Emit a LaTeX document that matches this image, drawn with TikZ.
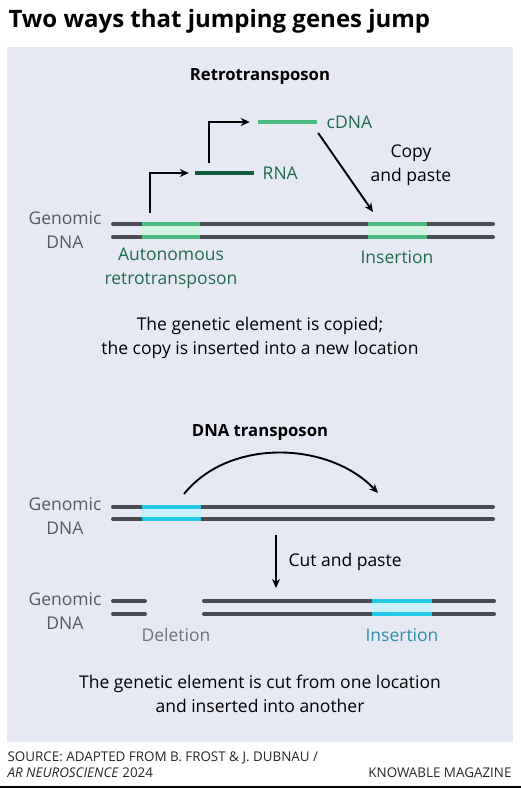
\documentclass[tikz,border=0pt]{standalone}
\usepackage{fontspec}
\setmainfont{Open Sans}
\usetikzlibrary{arrows.meta,calc,positioning}
\definecolor{panel}{HTML}{E6E9F4}
\definecolor{strandgray}{HTML}{4A4B52}
\definecolor{retrogreen}{HTML}{4CBB7F}
\definecolor{retrolight}{HTML}{D5F2E0}
\definecolor{rnagreen}{HTML}{0E5C3C}
\definecolor{labelgreen}{HTML}{1D6B4B}
\definecolor{dnacyan}{HTML}{22C8E6}
\definecolor{cyanlight}{HTML}{C8F0FA}
\definecolor{labelteal}{HTML}{2A8FA6}
\definecolor{labelgray}{HTML}{58595F}
\tikzset{strand/.style={draw=strandgray,line width=4pt,line cap=round},
     greenseg/.style={draw=retrogreen,line width=4pt},
     cyanseg/.style={draw=dnacyan,line width=4pt},
     bar/.style={
       rectangle,
       inner sep=0,
       minimum width=59pt,
       minimum height=4pt
     },
     heading/.style={font=\bfseries\fontsize{16.7}{20}\selectfont},
     body/.style={align=center,font=\fontsize{17.5}{24}\selectfont},
     genlabel/.style={body,text=labelgray},
     arr/.style={->,line width=1.9pt,black}
}

\begin{document}
\begin{tikzpicture}[x=1pt,y=-1pt,
    >={Stealth[length=9pt,width=8pt]}]
  \useasboundingbox (0,0) rectangle (521,788);
  \fill[panel] (7,47) rectangle (513,742);
  \node[anchor=west,font=\bfseries\fontsize{24}{28}\selectfont] (title) at (5,21) {Two ways that jumping genes jump};

  % retrotransposon
  \node[heading] (retro) at (260,77) {Retrotransposon};
  \node[genlabel] (gen1) at (65,230) {Genomic\\DNA};
  \fill[retrolight] (142,224) rectangle (200,237);
  \fill[retrolight] (368,224) rectangle (427,237);
  \draw[strand] (113,224) -- (493,224);
  \draw[strand] (113,237) -- (493,237);
  \draw[greenseg] (142,224) -- (200,224) (142,237) -- (200,237);
  \draw[greenseg] (368,224) -- (427,224) (368,237) -- (427,237);

  \node[bar,fill=rnagreen] (rna) at (224.5,173) {};
  \node[body,text=labelgreen,right=5pt of rna] (rnalabel) {RNA};
  \node[bar,fill=retrogreen] (cdna) at (287.5,122) {};
  \node[body,text=labelgreen,right=6pt of cdna] (cdnalabel) {cDNA};

  \coordinate (tss1) at (150,213);
  \coordinate (tss2) at (209,163);
  \coordinate (ins1) at (373,212);
  \draw[arr,shorten >=6pt] (tss1) |- (rna.west);
  \draw[arr,shorten >=8pt] (tss2) |- (cdna.west);
  \draw[arr] ($(cdna.east)+(1,11)$) -- (ins1);
  \node[body] (copy) at (411,165.5) {Copy\\and paste};

  \node[body,text=labelgreen] (auto) at (171,268.5) {Autonomous\\retrotransposon};
  \node[body,text=labelgreen] (ins1label) at (397,257) {Insertion};
  \node[body] (retronote) at (260,337.5) {The genetic element is copied;\\the copy is inserted into a new location};

  % DNA transposon
  \node[heading] (dnat) at (260,433) {DNA transposon};
  \node[genlabel] (gen2) at (65,516) {Genomic\\DNA};
  \fill[cyanlight] (142,507) rectangle (201,519);
  \draw[strand] (113,507) -- (493,507);
  \draw[strand] (113,519) -- (493,519);
  \draw[cyanseg] (142,507) -- (201,507) (142,519) -- (201,519);

  \coordinate (jumpfrom) at (184,494);
  \coordinate (jumpto) at (378,493);
  \draw[arr] (jumpfrom) .. controls (230,437) and (330,442) .. (jumpto);

  \coordinate (cuttop) at (276,535);
  \coordinate (cutbot) at (276,588);
  \draw[arr] (cuttop) -- (cutbot);
  \node[body,anchor=west] (cut) at (285,562) {Cut and paste};

  \node[genlabel] (gen3) at (65,611) {Genomic\\DNA};
  \fill[cyanlight] (372,601) rectangle (432,614);
  \draw[strand] (113,601) -- (145,601);
  \draw[strand] (113,614) -- (145,614);
  \draw[strand] (204,601) -- (494,601);
  \draw[strand] (204,614) -- (494,614);
  \draw[cyanseg] (372,601) -- (432,601) (372,614) -- (432,614);
  \node[body,text=labelgray!85] (del) at (176,635) {Deletion};
  \node[body,text=labelteal] (ins2label) at (402,635) {Insertion};
  \node[body] (dnanote) at (260,694) {The genetic element is cut from one location\\and inserted into another};

  % source
  \node[anchor=west,align=left,font=\fontsize{13.4}{16}\selectfont,text=black!85] (source) at (4,765)
    {SOURCE: ADAPTED FROM B. FROST \& J. DUBNAU /\\\textit{AR NEUROSCIENCE} 2024};
  \node[anchor=east,font=\fontsize{13.4}{16}\selectfont,text=black!85] (knowable) at (515,773) {KNOWABLE MAGAZINE};
  \draw[line width=1.5pt] (0,787) -- (521,787);
\end{tikzpicture}
\end{document}
